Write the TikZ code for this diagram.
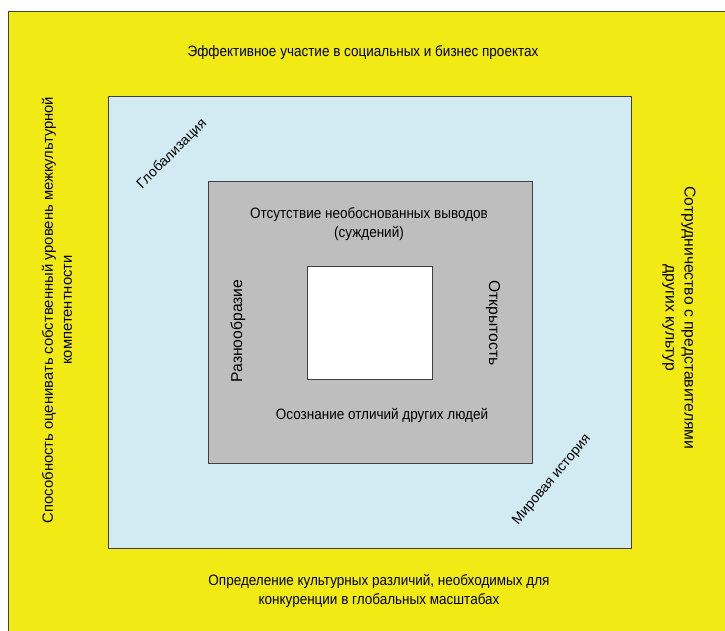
\documentclass[tikz,border=0pt]{standalone}
\usepackage{fontspec}
\setmainfont{Liberation Sans}
\newfontfamily\narrowfont{Liberation Sans}[FakeStretch=0.9]
\usetikzlibrary{positioning}
\definecolor{bgyellow}{HTML}{F2EA14}
\definecolor{midblue}{HTML}{D2EBF2}
\definecolor{coregray}{HTML}{BEBEBE}

\begin{document}
\begin{tikzpicture}[x=1pt, y=-1pt,
    layer/.style={rectangle, draw=black!75, line width=1.1pt, inner sep=0pt, anchor=north west},
    lbl/.style={font=\narrowfont\fontsize{15}{19}\selectfont, align=center, inner sep=0pt},
    vlbl/.style={lbl, font=\fontsize{15.7}{19}\selectfont},
    dlbl/.style={lbl, rotate=45, font=\fontsize{14}{18}\selectfont}
  ]
  \useasboundingbox (0,0) rectangle (725,630);
  \clip (0,0) rectangle (725,630);
  \fill[white] (0,0) rectangle (725,630);
  % nested squares
  \node[layer, fill=bgyellow, minimum width=740pt, minimum height=640pt] (outer) at (8,11) {};
  \node[layer, fill=midblue, minimum width=523pt, minimum height=452pt] (globe) at (108,96) {};
  \node[layer, fill=coregray, minimum width=324pt, minimum height=282pt] (core) at (208,181) {};
  \node[layer, fill=white, minimum width=125pt, minimum height=113pt] (self) at (307,266) {};
  % outer labels
  \node[lbl] (top) at (363,53) {Эффективное участие в социальных и бизнес проектах};
  \node[lbl] (bottom) at (379,591) {Определение культурных различий, необходимых для\\конкуренции в глобальных масштабах};
  \node[vlbl, rotate=90, font=\fontsize{14.8}{19}\selectfont] (left) at (57,310) {Способность оценивать собственный уровень межкультурной\\компетентности};
  \node[vlbl, rotate=-90] (right) at (679,318) {Сотрудничество с представителями\\других культур};
  % middle labels
  \node[dlbl] (glob) at (172,154) {Глобализация};
  \node[dlbl, rotate=5] (hist) at (552,480) {Мировая история};
  % inner labels
  \node[lbl] (judg) at (369,224) {Отсутствие необоснованных выводов\\(суждений)};
  \node[lbl] (aware) at (382,415) {Осознание отличий других людей};
  \node[vlbl, rotate=90] (div) at (238,331) {Разнообразие};
  \node[vlbl, rotate=-90] (open) at (493,323) {Открытость};
\end{tikzpicture}
\end{document}
